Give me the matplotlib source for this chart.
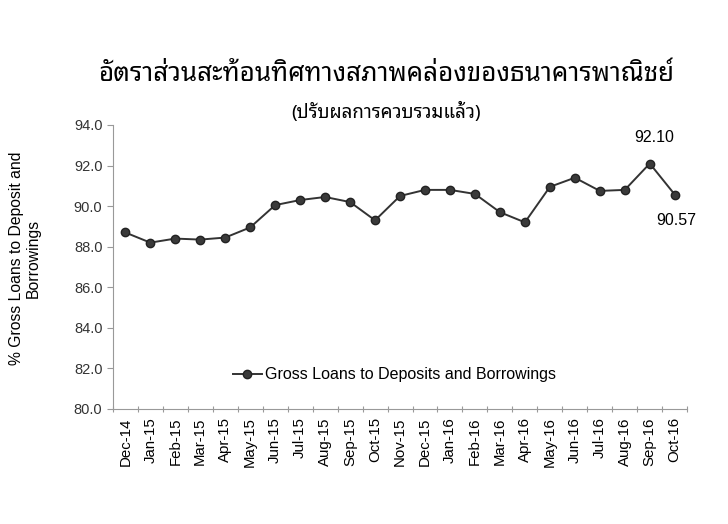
import matplotlib
matplotlib.use("Agg")
import matplotlib.pyplot as plt

months = ["Dec-14", "Jan-15", "Feb-15", "Mar-15", "Apr-15", "May-15", "Jun-15",
          "Jul-15", "Aug-15", "Sep-15", "Oct-15", "Nov-15", "Dec-15", "Jan-16",
          "Feb-16", "Mar-16", "Apr-16", "May-16", "Jun-16", "Jul-16", "Aug-16",
          "Sep-16", "Oct-16"]
ratio = [88.70, 88.20, 88.40, 88.35, 88.45, 88.95, 90.05, 90.30, 90.45, 90.20,
         89.30, 90.50, 90.80, 90.80, 90.60, 89.70, 89.20, 90.95, 91.40, 90.75,
         90.80, 92.10, 90.57]
yticks = [80, 82, 84, 86, 88, 90, 92, 94]

title = "อัตราส่วนสะท้อนทิศทางสภาพคล่องของธนาคารพาณิชย์"
subtitle = "(ปรับผลการควบรวมแล้ว)"

plt.rcParams['font.family'] = ['Liberation Sans', 'Noto Sans Thai Looped']

fig = plt.figure(figsize=(7.28, 5.24), dpi=100)
ax = fig.add_axes([0.155, 0.2195, 0.789, 0.542])

x = list(range(len(months)))
ax.plot(x, ratio, color="#333333", lw=1.4, marker="o", markersize=6,
        markerfacecolor="#3a3a3a", markeredgecolor="#222222",
        label="Gross Loans to Deposits and Borrowings")

ax.set_xlim(-0.5, len(months) - 0.5)
ax.set_ylim(80, 94)
ax.set_yticks(yticks)
ax.set_yticklabels([f"{v:.1f}" for v in yticks], fontsize=10.5, color="#333333")

# category axis: ticks between months, labels at month centres
ax.set_xticks([i - 0.5 for i in range(len(months) + 1)])
ax.set_xticklabels([])
ax.set_xticks(x, minor=True)
ax.set_xticklabels(months, minor=True, rotation=90, fontsize=10.8)
ax.tick_params(axis="x", which="minor", length=0, pad=6)
ax.tick_params(axis="x", which="major", length=4, color="#999999", direction="inout")
ax.tick_params(axis="y", length=4, color="#999999", direction="out")

for s in ["top", "right"]:
    ax.spines[s].set_visible(False)
for s in ["left", "bottom"]:
    ax.spines[s].set_color("#999999")

ax.set_ylabel("% Gross Loans to Deposit and\nBorrowings", fontsize=11.3)
ax.yaxis.set_label_coords(-0.125, 0.53)

ax.annotate(f"{ratio[21]:.2f}", (21, ratio[21]), xytext=(3, 13),
            textcoords="offset points", ha="center", va="bottom", fontsize=11.5)
ax.annotate(f"{ratio[22]:.2f}", (22, ratio[22]), xytext=(1, -13),
            textcoords="offset points", ha="center", va="top", fontsize=11.5)

ax.legend(loc="center", bbox_to_anchor=(0.49, 0.12), frameon=False,
          fontsize=11.5, handlelength=1.8, handletextpad=0.2)

fig.text(0.53, 0.857, title, ha="center", va="center", fontsize=18.7,
         fontweight="bold", family=["Noto Sans Thai Looped"])
fig.text(0.53, 0.786, subtitle, ha="center", va="center", fontsize=13.5,
         family=["Noto Sans Thai Looped"])

fig.savefig("out.png", dpi=100)
